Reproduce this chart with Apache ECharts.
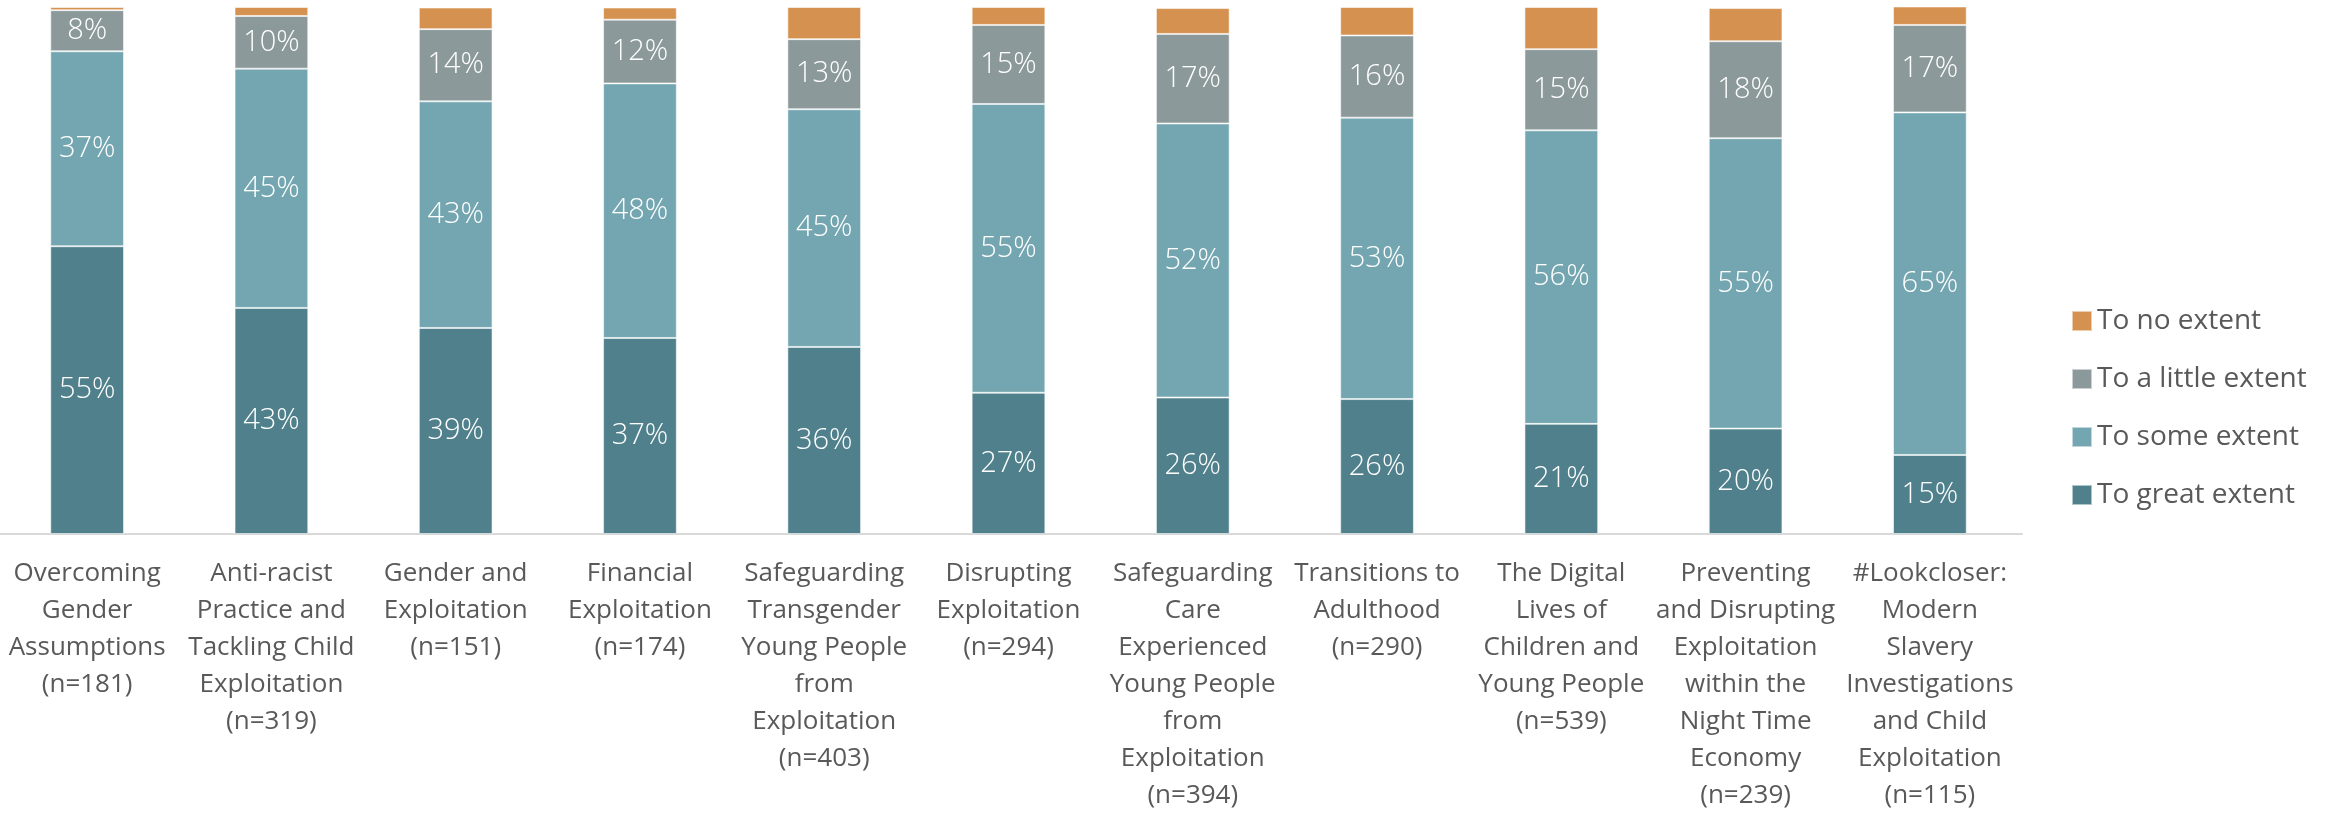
<!DOCTYPE html>
<html lang="en">
<head>
    <meta charset="UTF-8">
    <title>Extent of learning by course</title>
    <style>
        html, body { margin: 0; padding: 0; background: #fff; }
        #main { width: 2325px; height: 813px; }
    </style>
</head>
<body>
    <div id="main"></div>
    <script src="https://cdn.jsdelivr.net/npm/echarts@6/dist/echarts.min.js"></script>
    <script>
        // course names (with the line breaks used in the reference)
        const categories = [
            'Overcoming\nGender\nAssumptions\n(n=181)',
            'Anti-racist\nPractice and\nTackling Child\nExploitation\n(n=319)',
            'Gender and\nExploitation\n(n=151)',
            'Financial\nExploitation\n(n=174)',
            'Safeguarding\nTransgender\nYoung People\nfrom\nExploitation\n(n=403)',
            'Disrupting\nExploitation\n(n=294)',
            'Safeguarding\nCare\nExperienced\nYoung People\nfrom\nExploitation\n(n=394)',
            'Transitions to\nAdulthood\n(n=290)',
            'The Digital\nLives of\nChildren and\nYoung People\n(n=539)',
            'Preventing\nand Disrupting\nExploitation\nwithin the\nNight Time\nEconomy\n(n=239)',
            '#Lookcloser:\nModern\nSlavery\nInvestigations\nand Child\nExploitation\n(n=115)'
        ];

        // percentages
        const greatExtent  = [54.6, 42.9, 39.1, 37.2, 35.5, 26.8, 25.9, 25.6, 20.9, 20.0, 15.0];
        const someExtent   = [37.0, 45.4, 43.0, 48.3, 45.1, 54.8, 52.0, 53.4, 55.7, 55.1, 65.0];
        const littleExtent = [7.8, 10.0, 13.7, 12.1, 13.3, 15.0, 17.0, 15.6, 15.4, 18.4, 16.6];
        const noExtent     = [0.6, 1.7, 4.1, 2.3, 6.1, 3.4, 4.9, 5.4, 8.0, 6.3, 3.5];

        const colors = {
            great: '#4f808b',
            some: '#73a6b0',
            little: '#8c999b',
            none: '#d4914f'
        };

        const font = '"Open Sans", "Noto Sans", sans-serif';

        function makeSeries(name, data, color, showLabel) {
            return {
                name: name,
                type: 'bar',
                stack: 'total',
                barWidth: '40%',
                data: data,
                itemStyle: {
                    color: color,
                    borderColor: 'rgba(255,255,255,0.55)',
                    borderWidth: 1
                },
                label: {
                    show: showLabel,
                    position: 'inside',
                    color: '#fff',
                    fontFamily: font,
                    fontWeight: 300,
                    fontSize: 29,
                    formatter: function (p) {
                        return Math.round(p.value) + '%';
                    }
                }
            };
        }

        const myChart = echarts.init(document.getElementById('main'));

        const option = {
            backgroundColor: '#fff',
            animation: false,
            grid: {
                left: -5,
                right: 303,
                top: 7,
                bottom: 279,
                outerBoundsMode: 'none',
                containLabel: false
            },
            legend: {
                orient: 'vertical',
                left: 2066,
                top: 302,
                icon: 'rect',
                itemWidth: 20,
                itemHeight: 20,
                itemGap: 30,
                textStyle: {
                    color: '#595959',
                    fontFamily: font,
                    fontSize: 28,
                    padding: [0, 0, 0, 0]
                },
                data: ['To no extent', 'To a little extent', 'To some extent', 'To great extent']
            },
            xAxis: {
                type: 'category',
                data: categories,
                axisTick: { show: false },
                axisLine: {
                    lineStyle: { color: '#d9d9d9', width: 2 }
                },
                axisLabel: {
                    interval: 0,
                    margin: 21,
                    color: '#595959',
                    fontFamily: font,
                    fontSize: 26,
                    lineHeight: 37,
                    verticalAlign: 'top'
                }
            },
            yAxis: {
                type: 'value',
                min: 0,
                max: 100,
                show: false
            },
            series: [
                makeSeries('To great extent', greatExtent, colors.great, true),
                makeSeries('To some extent', someExtent, colors.some, true),
                makeSeries('To a little extent', littleExtent, colors.little, true),
                makeSeries('To no extent', noExtent, colors.none, false)
            ]
        };

        myChart.setOption(option);
    </script>
</body>
</html>
